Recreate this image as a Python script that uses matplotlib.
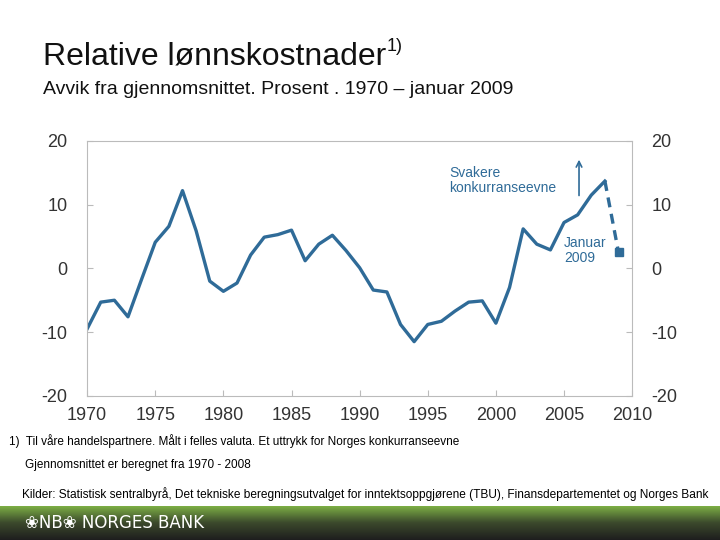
import numpy as np
import matplotlib.pyplot as plt
from matplotlib.colors import LinearSegmentedColormap

years = list(range(1970, 2009))
values = [-9.5, -5.3, -5.0, -7.6, -1.7, 4.1, 6.6, 12.2, 5.9, -2.0,
          -3.6, -2.3, 2.1, 4.9, 5.3, 6.0, 1.2, 3.8, 5.2, 2.8,
          0.1, -3.4, -3.7, -8.8, -11.5, -8.8, -8.3, -6.7, -5.3, -5.1,
          -8.6, -3.0, 6.2, 3.8, 2.9, 7.2, 8.4, 11.5, 13.7]
jan2009_x = 2009.0
jan2009_val = 2.5
yticks = [-20, -10, 0, 10, 20]
xticks = [1970, 1975, 1980, 1985, 1990, 1995, 2000, 2005, 2010]

blue = "#2f6b98"
plt.rcParams["font.family"] = "Liberation Sans"
plt.rcParams["axes.unicode_minus"] = False

fig = plt.figure(figsize=(7.2, 5.4), dpi=100)
ax = fig.add_axes([0.121, 0.267, 0.757, 0.472])
ax.plot(years, values, color=blue, lw=2.4)
ax.plot([years[-1], jan2009_x], [values[-1], jan2009_val], color=blue, lw=2.4, ls=(0, (3, 2)))
ax.plot([jan2009_x], [jan2009_val], marker="s", color=blue, ms=6)
ax.set_xlim(1970, 2010)
ax.set_ylim(-20, 20)
ax.set_xticks(xticks)
ax.set_yticks(yticks)
ax.tick_params(direction="in", length=4, color="#bbbbbb", labelsize=13, labelcolor="#333333",
               right=True, labelright=True)
ax.tick_params(axis="y", pad=14)
ax.tick_params(axis="x", pad=8)
for s in ax.spines.values():
    s.set_color("#bbbbbb")

ax.annotate("", xy=(2006.1, 17.5), xytext=(2006.1, 11), arrowprops=dict(arrowstyle="->", color=blue, lw=1.2))
ax.text(1996.6, 13.8, "Svakere\nkonkurranseevne", color=blue, fontsize=10, va="center", linespacing=1.1)
ax.text(2005.0, 2.8, "Januar\n2009", color=blue, fontsize=10, va="center", linespacing=1.1)

fig.text(0.06, 0.88, "Relative lønnskostnader", fontsize=23, color="#111111")
fig.text(0.537, 0.905, "1)", fontsize=13, color="#111111")
fig.text(0.06, 0.825, "Avvik fra gjennomsnittet. Prosent . 1970 – januar 2009", fontsize=14, color="#111111")
fig.text(0.012, 0.175, "1)  Til våre handelspartnere. Målt i felles valuta. Et uttrykk for Norges konkurranseevne", fontsize=8.5)
fig.text(0.035, 0.133, "Gjennomsnittet er beregnet fra 1970 - 2008", fontsize=8.5)
fig.text(0.03, 0.078, "Kilder: Statistisk sentralbyrå, Det tekniske beregningsutvalget for inntektsoppgjørene (TBU), Finansdepartementet og Norges Bank",
         fontsize=8.6)

# bottom banner with gradient (green on top, dark below)
grad = np.linspace(0, 1, 100).reshape(-1, 1)
bax = fig.add_axes([0, 0, 1, 0.063])
cmap = LinearSegmentedColormap.from_list("g", ["#1e1e1e", "#3c4a2c", "#80b446"])
bax.imshow(grad, aspect="auto", cmap=cmap, origin="lower", extent=[0, 1, 0, 1])
bax.set_axis_off()
bax.text(0.035, 0.5, "\u2740NB\u2740 NORGES BANK", color="white", fontsize=12, va="center",
         fontfamily="DejaVu Sans")

fig.savefig("out.png", dpi=100)
